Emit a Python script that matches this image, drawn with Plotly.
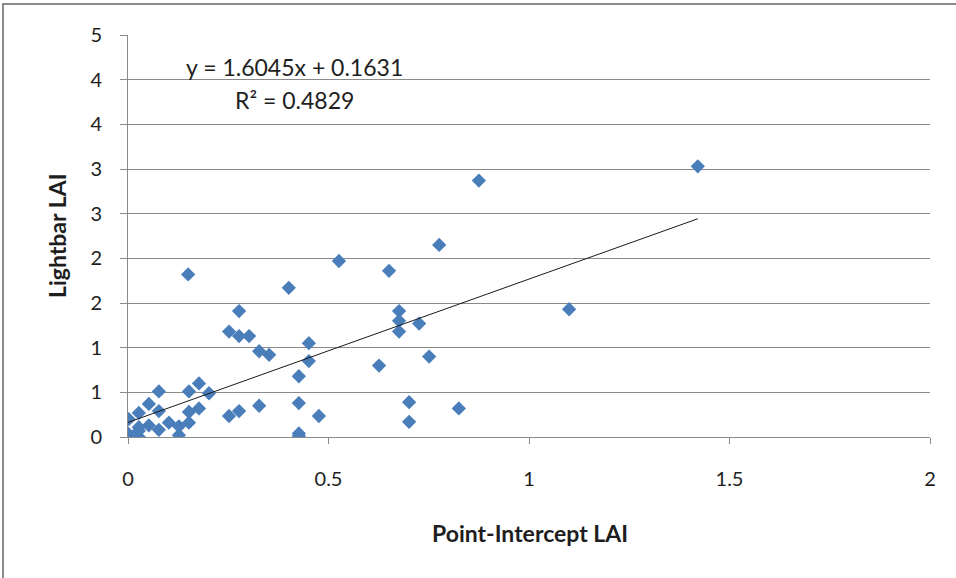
import plotly.graph_objects as go

# Point-intercept vs. lightbar leaf area index measurements
point_intercept_lai = [
    1.421, 0.875, 0.776, 0.651, 0.526, 0.150, 0.401, 1.100,
    0.277, 0.252, 0.277, 0.302, 0.327, 0.352, 0.451, 0.451,
    0.426, 0.426, 0.476, 0.426, 0.426, 0.676, 0.676, 0.676,
    0.726, 0.626, 0.751, 0.701, 0.701, 0.825, 0.077, 0.152,
    0.177, 0.202, 0.052, 0.027, 0.002, 0.077, 0.152, 0.177,
    0.252, 0.277, 0.327, 0.102, 0.127, 0.152, 0.077, 0.127,
    0.052, 0.027, 0.000, 0.000, 0.027, 0.027,
]
lightbar_lai = [
    3.03, 2.87, 2.15, 1.86, 1.97, 1.82, 1.67, 1.43,
    1.41, 1.18, 1.13, 1.13, 0.96, 0.92, 1.05, 0.85,
    0.68, 0.38, 0.235, 0.04, 0.01, 1.41, 1.30, 1.18,
    1.27, 0.80, 0.90, 0.39, 0.17, 0.32, 0.51, 0.51,
    0.60, 0.49, 0.37, 0.27, 0.20, 0.29, 0.28, 0.32,
    0.235, 0.29, 0.35, 0.16, 0.12, 0.16, 0.08, 0.02,
    0.13, 0.11, 0.04, 0.00, 0.00, 0.07,
]

# Linear trendline reported on the chart
slope = 1.6045
intercept = 0.1631
r_squared = 0.4829

x_ticks = [0, 0.5, 1, 1.5, 2]
x_tick_labels = ["0", "0.5", "1", "1.5", "2"]
y_ticks = [0, 0.5, 1, 1.5, 2, 2.5, 3, 3.5, 4, 4.5]
# integer number format rounds half values upward
y_tick_labels = [str(int(v + 0.5)) for v in y_ticks]

FONT = "Lato"
GRID = "#8a8a8a"

x0, x1 = min(point_intercept_lai), max(point_intercept_lai)

fig = go.Figure()
fig.add_trace(go.Scatter(
    x=point_intercept_lai, y=lightbar_lai, mode="markers",
    marker=dict(symbol="diamond", size=11, color="#4a7ebb",
                line=dict(width=0)),
    showlegend=False, hoverinfo="x+y",
))
fig.add_trace(go.Scatter(
    x=[x0, x1], y=[slope * x0 + intercept, slope * x1 + intercept],
    mode="lines", line=dict(color="#1a1a1a", width=1),
    showlegend=False, hoverinfo="skip",
))

fig.update_layout(
    width=956, height=578,
    margin=dict(l=128, r=26, t=35, b=141),
    paper_bgcolor="white", plot_bgcolor="white",
    font=dict(family=FONT, size=20, color="#1e1e1e"),
    xaxis=dict(
        range=[0, 2], tickvals=x_ticks, ticktext=x_tick_labels,
        showgrid=False, zeroline=False,
        showline=True, linecolor=GRID, linewidth=1,
        ticks="outside", ticklen=6, tickcolor=GRID,
        ticklabelstandoff=18,
    ),
    yaxis=dict(
        range=[0, 4.5], tickvals=y_ticks, ticktext=y_tick_labels,
        showgrid=True, gridcolor=GRID, gridwidth=1, zeroline=False,
        showline=True, linecolor=GRID, linewidth=1,
        ticks="outside", ticklen=7, tickcolor=GRID,
        ticklabelstandoff=14,
    ),
    annotations=[
        dict(text="<b>Point-Intercept LAI</b>", xref="paper", yref="paper",
             x=(530 - 128) / 802, y=0, yanchor="middle", yshift=-96,
             showarrow=False, font=dict(size=23)),
        dict(text="<b>Lightbar LAI</b>", xref="paper", yref="paper",
             x=0, y=0.5, xanchor="center", xshift=-71, textangle=-90,
             showarrow=False, font=dict(size=23)),
        dict(text=f"y = {slope}x + {intercept}", xref="x", yref="y",
             x=0.414, y=4.14, showarrow=False, font=dict(size=23)),
        dict(text=f"R² = {r_squared}", xref="x", yref="y",
             x=0.416, y=3.77, showarrow=False, font=dict(size=23)),
    ],
    shapes=[
        dict(type="rect", xref="paper", yref="paper",
             x0=(3 - 128) / 802, x1=1.2, y0=-0.6, y1=(437 - 4) / 402,
             line=dict(color="#8c8c8c", width=2), layer="below"),
    ],
)

fig.write_html("out.html")
